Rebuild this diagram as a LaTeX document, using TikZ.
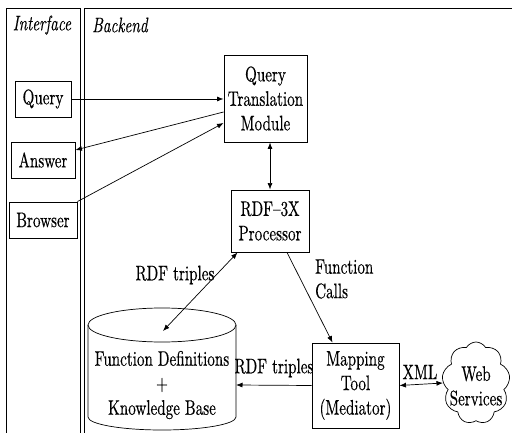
\documentclass[tikz,border=0pt]{standalone}
\usepackage{fontspec}
\setmainfont{lmroman10-regular.otf}[ItalicFont=lmroman10-italic.otf, FakeStretch=0.72, FakeBold=0.35]
\usetikzlibrary{arrows.meta,shapes.symbols}
\begin{document}
\begin{tikzpicture}[x=1pt,y=-1pt,
  font=\fontsize{21}{24.5}\selectfont,
  box/.style={draw, line width=0.9pt, inner sep=0pt, align=center},
  conn/.style={line width=0.7pt, -{Latex[length=6.5pt,width=5pt]}},
  dconn/.style={line width=0.7pt, {Latex[length=6.5pt,width=5pt]}-{Latex[length=6.5pt,width=5pt]}},
  plain/.style={line width=0.7pt},
  lbl/.style={inner sep=0pt, align=center},
  frame/.style={line width=0.9pt}]
\useasboundingbox (0,0) rectangle (512,433);
\clip (0,0) rectangle (512,433);
% panels
\draw[frame] (6,445) -- (6,8) -- (80,8) -- (80,445);
\draw[frame] (84,445) -- (84,8) -- (520,8);
\node[lbl] (ti) at (42,25) {\itshape Interface};
\node[lbl, anchor=west] (tb) at (92,25) {\itshape Backend};
% interface boxes
\node[box, minimum width=56pt, minimum height=36pt] (q) at (43,99) {Query};
\node[box, minimum width=64pt, minimum height=36pt] (a) at (43,160) {Answer};
\node[box, minimum width=68pt, minimum height=36pt] (b) at (43,220) {Browser};
% backend boxes
\node[box, minimum width=83pt, minimum height=87pt] (qtm) at (265.5,98.5) {Query\\Translation\\Module};
\node[box, minimum width=78pt, minimum height=62pt] (rdf) at (270,221) {RDF--3X\\Processor};
\node[box, minimum width=87pt, minimum height=85pt] (map) at (355.5,385.5) {Mapping\\Tool\\(Mediator)};
% cylinder
\draw[plain] (162,325) ellipse [x radius=74, y radius=17];
\draw[plain] (88,325) -- (88,417) arc[start angle=180, end angle=0, x radius=74, y radius=13] -- (236,325);
\node[lbl] (kb) at (162,385) {Function Definitions\\+\\Knowledge Base};
\coordinate (kbin) at (163,331);
\coordinate (kbE) at (236,385);
% cloud
\node[cloud, draw, line width=0.7pt, cloud puffs=9, cloud puff arc=120, cloud ignores aspect,
      minimum width=68pt, minimum height=82pt, inner sep=0pt] (cl) at (476,383) {};
\node[lbl] (ws) at (476,386) {Web\\Services};
% labels
\node[lbl] (l1) at (175,275) {RDF triples};
\node[lbl, align=left, anchor=west] (l2) at (315,279) {Function\\Calls};
\node[lbl] (l3) at (274,368) {RDF triples};
\node[lbl] (l4) at (420,372) {XML};
% connectors
\draw[conn] (q.east) -- (q.east -| qtm.west);
\draw[conn] ([yshift=-13.5pt]qtm.west) -- ([yshift=10pt]a.east);
\draw[conn] (b.north east) -- ([yshift=-24.5pt]qtm.west);
\draw[dconn] (rdf.north -| 270,0) -- (qtm.south -| 270,0);
\draw[dconn] (kbin) -- ([xshift=7pt]rdf.south west);
\draw[conn] ([xshift=17pt]rdf.south) -- ([xshift=-23pt]map.north);
\draw[conn] (map.west) -- (kbE);
\draw[dconn] (map.east) -- (cl.west);
\end{tikzpicture}
\end{document}
